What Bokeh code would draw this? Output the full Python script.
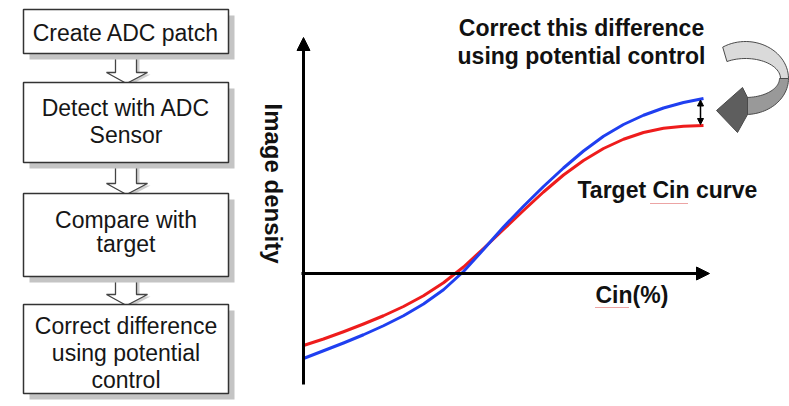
import numpy as np
from bokeh.plotting import figure
from bokeh.layouts import row
from bokeh.models import Range1d, Arrow, NormalHead
from bokeh.core.properties import value
from bokeh.embed import file_html
from bokeh.resources import INLINE

# ---------------- data ----------------
flow_steps = [
    ["Create ADC patch"],
    ["Detect with ADC", "Sensor"],
    ["Compare with", "target"],
    ["Correct difference", "using potential", "control"],
]
cin_pct = [0, 5, 10, 15, 20, 25, 30, 35, 40, 45, 50,
           55, 60, 65, 70, 75, 80, 85, 90, 95, 100]
measured_density = [-34.0, -30.9, -27.8, -24.5, -20.9, -16.9, -12.2, -6.5, 0.8, 9.6, 18.6,
                    26.9, 34.8, 42.2, 49.0, 54.9, 59.6, 63.3, 66.2, 68.4, 70.0]
target_density = [-28.8, -26.2, -23.3, -20.2, -16.9, -13.2, -8.9, -3.7, 2.6, 10.0, 17.6,
                  25.2, 32.6, 39.4, 45.2, 50.0, 53.7, 56.4, 58.1, 58.9, 59.2]
x_label = "Cin(%)"
y_label = "Image density"
note_text = ["Correct this difference", "using potential control"]
curve_label = "Target Cin curve"

FONT = value("Liberation Sans")
W, H = 789, 406
SPLIT = 250
MID = 8  # offset from alphabetic baseline to text middle (px)

# ---------------- left: flowchart ----------------
left = figure(width=SPLIT, height=H, x_range=Range1d(0, SPLIT), y_range=Range1d(H, 0),
              output_backend="svg", toolbar_location=None, min_border=0)
left.axis.visible = False
left.grid.visible = False
left.outline_line_color = None

bx0, bx1 = 23, 228
box_top = [9, 82, 193, 304]
box_bot = [53, 162, 276, 393]
sh = 6
# connectors (hollow arrows)
for i in range(3):
    b, t = box_bot[i], box_top[i + 1]
    hy = t - 10
    xs = [115, 115, 106, 126, 147, 136, 136]
    ys = [b, hy, hy, t + 1, hy, hy, b]
    left.patch([x + 3 for x in xs], [y + 2 for y in ys], fill_color="#cfcfcf", line_color=None)
    left.patch(xs, ys, fill_color="white", line_color="#444444", line_width=1.3)
# shadows
left.quad(left=[bx0 + sh] * 4, right=[bx1 + sh] * 4,
          top=[t + sh for t in box_top], bottom=[b + sh for b in box_bot],
          fill_color="#c4c4c4", line_color=None)
left.quad(left=[bx0] * 4, right=[bx1] * 4, top=box_top, bottom=box_bot,
          fill_color="white", line_color="#333333", line_width=1.5)
baselines = [[40], [115, 142], [227, 251], [333, 360, 387]]
tx, ty, tt = [], [], []
for lines, bl in zip(flow_steps, baselines):
    for s, y in zip(lines, bl):
        tx.append(125.5)
        ty.append(y - MID)
        tt.append(s)
left.text(x=tx, y=ty, text=tt, text_font=FONT, text_font_size=value("23px"),
          text_align="center", text_baseline="middle", text_color="#161616")

# ---------------- right: curves ----------------
# chart units: x 4px per unit, y 2.5px per unit; origin at page (303, 273)
def X(px):
    return (px - 303) / 4.0

def Y(py):
    return (273 - py) / 2.5

right = figure(width=W - SPLIT, height=H, x_range=Range1d(X(SPLIT), X(W)),
               y_range=Range1d(Y(H), Y(0)),
               output_backend="svg", toolbar_location=None, min_border=0)
right.axis.visible = False
right.grid.visible = False
right.outline_line_color = None

# axes with arrows
right.add_layout(Arrow(end=NormalHead(size=13, fill_color="black", line_color="black"),
                       x_start=0, y_start=Y(384), x_end=0, y_end=Y(37),
                       line_width=3, line_color="black"))
right.add_layout(Arrow(end=NormalHead(size=13, fill_color="black", line_color="black"),
                       x_start=X(301), y_start=0, x_end=X(709), y_end=0,
                       line_width=3, line_color="black"))

right.line(cin_pct, target_density, line_color="#ee1c1c", line_width=3, line_join="round")
right.line(cin_pct, measured_density, line_color="#1f3ff0", line_width=3, line_join="round")

# difference arrow
right.add_layout(Arrow(start=NormalHead(size=6, fill_color="black", line_color="black"),
                       end=NormalHead(size=6, fill_color="black", line_color="black"),
                       x_start=X(700), y_start=measured_density[-1] - 0.6,
                       x_end=X(700), y_end=target_density[-1] + 0.4,
                       line_width=1.5, line_color="black"))

# curved grey ribbon arrow (ellipse geometry in page pixels)
cx, cy = 745, 78
def ell(rx, ry, t0, t1, n=30):
    t = np.radians(np.linspace(t0, t1, n))
    return list(cx + rx * np.cos(t)), list(cy + ry * np.sin(t))

ox, oy = ell(43, 37, -122, 0)
ix, iy = ell(35, 20, 0, -122)
up_x, up_y = ox + ix, oy + iy
ox2, oy2 = ell(43, 36, 0, 92)
ix2, iy2 = ell(34, 19, 92, 0)
lo_x, lo_y = ox2 + ix2, oy2 + iy2
head_x = [747, 742, 716, 737, 747]
head_y = [97, 87, 110, 132, 114]
for xs, ys, col in [(up_x, up_y, "#dadada"), (lo_x, lo_y, "#999999"), (head_x, head_y, "#5e5e5e")]:
    right.patch([X(v) for v in xs], [Y(v) for v in ys], fill_color=col,
                line_color="#4a4a4a", line_width=1)

# texts
BOLD = dict(text_font=FONT, text_font_size=value("23px"), text_font_style="bold",
            text_color="#111111", text_baseline="middle")
right.text(x=[X(581), X(581)], y=[Y(35 - MID), Y(63 - MID)], text=note_text,
           text_align="center", **BOLD)
right.text(x=[X(577)], y=[Y(197 - MID)], text=[curve_label], text_align="left", **BOLD)
right.text(x=[X(595)], y=[Y(302 - MID)], text=[x_label], text_align="left", **BOLD)
right.text(x=[X(273)], y=[Y(183)], text=[y_label], text_font=FONT,
           text_font_size=value("24px"), text_font_style="bold", angle=-np.pi / 2,
           text_align="center", text_baseline="middle", text_color="#111111")
# spell-check squiggles under "Cin"
right.line([X(650), X(688)], [Y(203), Y(203)], line_color="#d84848", line_width=1.2,
           line_dash="1 1")
right.line([X(595), X(628)], [Y(307), Y(307)], line_color="#d84848", line_width=1.2,
           line_dash="1 1")

layout = row(left, right)
open("out.html", "w").write(file_html(layout, INLINE))
